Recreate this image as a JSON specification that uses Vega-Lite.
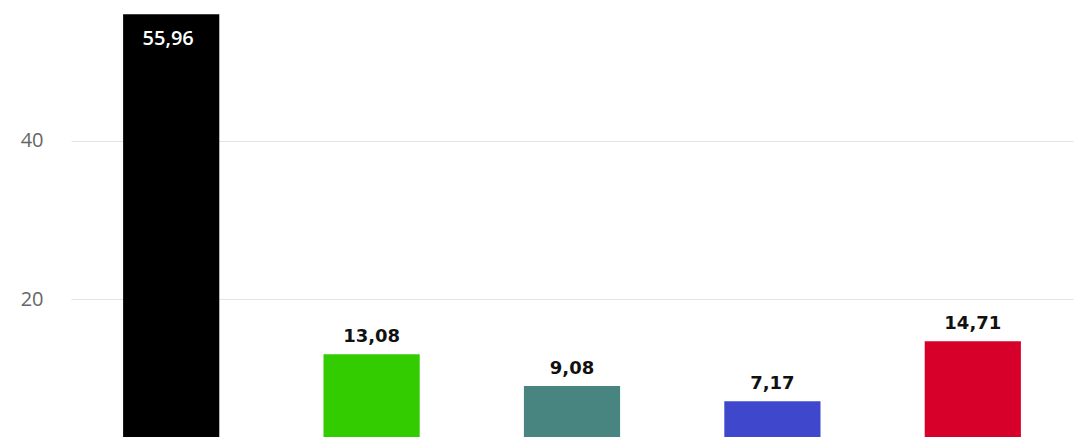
{
  "$schema": "https://vega.github.io/schema/vega-lite/v6.json",
  "autosize": {"type": "none"},
  "width": 1002,
  "height": 431,
  "padding": {"left": 71, "top": 6, "right": 19, "bottom": 0},
  "background": "#ffffff",
  "config": {"view": {"stroke": null}},
  "data": {
    "values": [
      {"party": "P1", "value": 55.96, "label": "55,96", "color": "#000000"},
      {"party": "P2", "value": 13.08, "label": "13,08", "color": "#33cc00"},
      {"party": "P3", "value": 9.08, "label": "9,08", "color": "#488480"},
      {"party": "P4", "value": 7.17, "label": "7,17", "color": "#3f48cc"},
      {"party": "P5", "value": 14.71, "label": "14,71", "color": "#d7002a"}
    ]
  },
  "encoding": {
    "x": {
      "field": "party",
      "type": "nominal",
      "sort": null,
      "scale": {"paddingInner": 0.52, "paddingOuter": 0.26},
      "axis": null
    },
    "y": {
      "field": "value",
      "type": "quantitative",
      "scale": {"domain": [2.65, 57], "nice": false, "zero": false, "clamp": true},
      "axis": {
        "values": [20, 40],
        "title": null,
        "domain": false,
        "ticks": false,
        "grid": true,
        "gridColor": "#e3e3e3",
        "gridWidth": 1,
        "labelFont": "Open Sans",
        "labelFontSize": 20,
        "labelColor": "#666666",
        "labelPadding": 28
      }
    }
  },
  "layer": [
    {
      "mark": {"type": "bar"},
      "encoding": {
        "color": {"field": "color", "type": "nominal", "scale": null}
      }
    },
    {
      "transform": [{"filter": "datum.value < 50"}],
      "mark": {
        "type": "text",
        "baseline": "alphabetic",
        "align": "center",
        "dy": -12,
        "font": "DejaVu Sans",
        "fontWeight": "bold",
        "fontSize": 18,
        "color": "#111111"
      },
      "encoding": {"text": {"field": "label"}}
    },
    {
      "transform": [{"filter": "datum.value >= 50"}],
      "mark": {
        "type": "text",
        "baseline": "alphabetic",
        "align": "center",
        "dx": -3,
        "dy": 31,
        "font": "Open Sans",
        "fontWeight": 600,
        "fontSize": 20,
        "color": "#ffffff"
      },
      "encoding": {"text": {"field": "label"}}
    }
  ]
}
